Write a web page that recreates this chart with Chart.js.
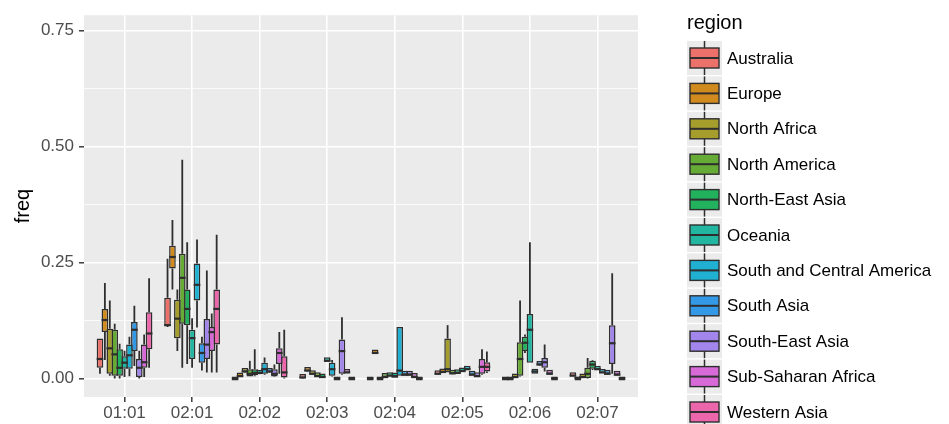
<!DOCTYPE html>
<html>
<head>
<meta charset="utf-8">
<script src="https://cdn.jsdelivr.net/npm/chart.js@4"></script>
<style>
  html, body { margin: 0; padding: 0; background: #fff; }
</style>
</head>
<body>
<canvas id="boxChart" width="949" height="424"></canvas>
<script>
// categories on the x axis
const categories = ['01:01', '02:01', '02:02', '02:03', '02:04', '02:05', '02:06', '02:07'];
const regions = ['Australia', 'Europe', 'North Africa', 'North America', 'North-East Asia', 'Oceania',
  'South and Central America', 'South Asia', 'South-East Asia', 'Sub-Saharan Africa', 'Western Asia'];
const regionColors = ['#EC716A', '#D08A1E', '#A59D2C', '#66AB35', '#22B25E', '#22B5A0',
  '#1FB0D2', '#3399E6', '#A386EC', '#D86AD8', '#EC66AC'];
const yLabelTicks = [0, 0.25, 0.5, 0.75];

// [lower whisker, q1, median, q3, upper whisker] for each category
const australia = [[0.010, 0.023, 0.042, 0.086, 0.086], [0.111, 0.113, 0.115, 0.174, 0.258], [0, 0, 0, 0, 0], [0, 0.001, 0.002, 0.003, 0.003],
  [0, 0, 0, 0, 0], [0.008, 0.009, 0.010, 0.011, 0.012], [0, 0, 0, 0, 0], [0.005, 0.005, 0.006, 0.007, 0.007]];
const europe = [[0.040, 0.100, 0.126, 0.150, 0.206], [0.192, 0.237, 0.262, 0.286, 0.342], [0.003, 0.004, 0.005, 0.006, 0.007], [0.015, 0.016, 0.017, 0.018, 0.018],
  [0.054, 0.054, 0.055, 0.056, 0.056], [0.012, 0.013, 0.014, 0.015, 0.016], [0, 0, 0, 0.001, 0.001], [0, 0, 0.001, 0.001, 0.001]];
const northAfrica = [[0.006, 0.010, 0.065, 0.107, 0.168], [0.059, 0.087, 0.129, 0.170, 0.192], [0.013, 0.014, 0.015, 0.016, 0.017], [0.008, 0.009, 0.010, 0.011, 0.012],
  [0, 0, 0, 0, 0], [0.013, 0.013, 0.020, 0.086, 0.115], [0.002, 0.002, 0.003, 0.003, 0.004], [0.002, 0.002, 0.003, 0.004, 0.004]];
const northAmerica = [[0, 0.006, 0.052, 0.105, 0.118], [0.023, 0.118, 0.217, 0.269, 0.472], [0.004, 0.004, 0.010, 0.020, 0.038], [0.004, 0.005, 0.005, 0.006, 0.006],
  [0.002, 0.003, 0.003, 0.004, 0.004], [0.009, 0.010, 0.011, 0.012, 0.013], [0.004, 0.006, 0.042, 0.078, 0.168], [0, 0.001, 0.010, 0.023, 0.044]];
const northEastAsia = [[0, 0.006, 0.023, 0.063, 0.075], [0.031, 0.115, 0.150, 0.192, 0.294], [0.005, 0.007, 0.012, 0.020, 0.063], [0.002, 0.002, 0.003, 0.003, 0.004],
  [0.005, 0.005, 0.006, 0.006, 0.007], [0.010, 0.011, 0.012, 0.013, 0.014], [0.055, 0.059, 0.077, 0.090, 0.095], [0.018, 0.021, 0.030, 0.038, 0.040]];
const oceania = [[0.003, 0.021, 0.034, 0.048, 0.060], [0.023, 0.042, 0.087, 0.105, 0.130], [0.009, 0.010, 0.012, 0.014, 0.015], [0.037, 0.037, 0.038, 0.039, 0.039],
  [0.003, 0.004, 0.004, 0.005, 0.005], [0.014, 0.015, 0.016, 0.017, 0.018], [0.034, 0.034, 0.105, 0.139, 0.294], [0.018, 0.019, 0.020, 0.021, 0.022]];
const southCentralAmerica = [[0.005, 0.021, 0.050, 0.073, 0.090], [0.110, 0.168, 0.202, 0.248, 0.300], [0.008, 0.010, 0.020, 0.034, 0.045], [0.004, 0.006, 0.020, 0.034, 0.040],
  [0.006, 0.006, 0.017, 0.111, 0.111], [0.018, 0.019, 0.020, 0.021, 0.022], [0.010, 0.010, 0.015, 0.021, 0.021], [0.012, 0.012, 0.013, 0.014, 0.014]];
const southAsia = [[0.027, 0.059, 0.105, 0.122, 0.157], [0.017, 0.034, 0.055, 0.076, 0.090], [0.013, 0.014, 0.015, 0.016, 0.017], [0, 0, 0, 0, 0],
  [0.007, 0.008, 0.008, 0.009, 0.009], [0.007, 0.008, 0.008, 0.009, 0.009], [0.028, 0.029, 0.030, 0.031, 0.032], [0.009, 0.010, 0.010, 0.011, 0.011]];
const southEastAsia = [[0, 0.003, 0.023, 0.042, 0.060], [0.013, 0.042, 0.073, 0.128, 0.233], [0.003, 0.004, 0.010, 0.020, 0.030], [0.008, 0.010, 0.059, 0.084, 0.132],
  [0.007, 0.008, 0.008, 0.009, 0.009], [0.004, 0.005, 0.005, 0.006, 0.006], [0.015, 0.023, 0.035, 0.044, 0.073], [0.010, 0.031, 0.076, 0.115, 0.227]];
const subSaharanAfrica = [[0.003, 0.023, 0.035, 0.073, 0.095], [0.013, 0.059, 0.100, 0.111, 0.140], [0.010, 0.031, 0.055, 0.065, 0.100], [0.012, 0.012, 0.013, 0.014, 0.014],
  [0.002, 0.003, 0.003, 0.004, 0.004], [0.008, 0.010, 0.025, 0.042, 0.063], [0.009, 0.010, 0.010, 0.011, 0.011], [0.007, 0.008, 0.008, 0.009, 0.009]];
const westernAsia = [[0.023, 0.063, 0.097, 0.143, 0.216], [0.013, 0.073, 0.150, 0.192, 0.310], [0, 0.002, 0.013, 0.048, 0.105], [0, 0, 0, 0, 0],
  [0, 0, 0, 0, 0], [0.012, 0.015, 0.025, 0.035, 0.058], [0, 0, 0, 0, 0], [0, 0, 0, 0, 0]];

const regionStats = [australia, europe, northAfrica, northAmerica, northEastAsia, oceania,
  southCentralAmerica, southAsia, southEastAsia, subSaharanAfrica, westernAsia];

const FONT = '"Liberation Sans", Arial, Helvetica, sans-serif';
const DARK = '#2E2E2E';

// boxes are floating bars from q1 to q3
const datasets = regions.map((name, r) => ({
  label: name,
  data: regionStats[r].map((s, i) => ({ x: i + 1, y: [s[1], s[3]] })),
  backgroundColor: regionColors[r],
  borderColor: DARK,
  borderWidth: 1.5,
  borderSkipped: false,
  minBarLength: 4,
  categoryPercentage: 0.8,
  barPercentage: 1.35
}));

// grey panel behind the grid
const panelPlugin = {
  id: 'panel',
  beforeDraw(chart) {
    const a = chart.chartArea;
    chart.ctx.save();
    chart.ctx.fillStyle = '#EBEBEB';
    chart.ctx.fillRect(a.left, a.top, a.right - a.left, a.bottom - a.top);
    chart.ctx.restore();
  }
};

// whiskers behind the boxes, medians on top
const boxPlugin = {
  id: 'boxParts',
  beforeDatasetsDraw(chart) {
    const ctx = chart.ctx;
    const y = chart.scales.y;
    ctx.save();
    ctx.strokeStyle = DARK;
    ctx.lineWidth = 1.8;
    regionStats.forEach((stats, r) => {
      const meta = chart.getDatasetMeta(r);
      stats.forEach((s, i) => {
        const el = meta.data[i];
        ctx.beginPath();
        ctx.moveTo(el.x, y.getPixelForValue(s[4]));
        ctx.lineTo(el.x, y.getPixelForValue(s[3]));
        ctx.moveTo(el.x, y.getPixelForValue(s[1]));
        ctx.lineTo(el.x, y.getPixelForValue(s[0]));
        ctx.stroke();
      });
    });
    ctx.restore();
  },
  afterDatasetsDraw(chart) {
    const ctx = chart.ctx;
    const y = chart.scales.y;
    ctx.save();
    ctx.strokeStyle = DARK;
    ctx.lineWidth = 2.2;
    regionStats.forEach((stats, r) => {
      const meta = chart.getDatasetMeta(r);
      stats.forEach((s, i) => {
        const el = meta.data[i];
        const py = y.getPixelForValue(s[2]);
        ctx.beginPath();
        ctx.moveTo(el.x - el.width / 2, py);
        ctx.lineTo(el.x + el.width / 2, py);
        ctx.stroke();
      });
    });
    ctx.restore();
  }
};

// ggplot-style legend with boxplot keys
const legendPlugin = {
  id: 'regionLegend',
  afterDraw(chart) {
    const ctx = chart.ctx;
    ctx.save();
    ctx.fillStyle = '#000';
    ctx.font = '20px ' + FONT;
    ctx.textBaseline = 'alphabetic';
    ctx.fillText('region', 687, 29);
    regions.forEach((name, k) => {
      const cy = 58 + k * 35.4;
      ctx.fillStyle = '#EBEBEB';
      ctx.fillRect(687, cy - 17, 35, 34);
      ctx.strokeStyle = DARK;
      ctx.lineWidth = 1.5;
      ctx.beginPath();
      ctx.moveTo(704.5, cy - 17);
      ctx.lineTo(704.5, cy + 17);
      ctx.stroke();
      ctx.fillStyle = regionColors[k];
      ctx.fillRect(690, cy - 10, 29, 20);
      ctx.lineWidth = 1.4;
      ctx.strokeRect(690, cy - 10, 29, 20);
      ctx.lineWidth = 2;
      ctx.beginPath();
      ctx.moveTo(690, cy);
      ctx.lineTo(719, cy);
      ctx.stroke();
      ctx.fillStyle = '#000';
      ctx.font = '17px ' + FONT;
      ctx.textBaseline = 'middle';
      ctx.fillText(name, 727, cy + 1);
    });
    ctx.restore();
  }
};

const isMajor = v => yLabelTicks.some(t => Math.abs(t - v) < 1e-6);

new Chart(document.getElementById('boxChart').getContext('2d'), {
  type: 'bar',
  data: { datasets: datasets },
  options: {
    responsive: false,
    animation: false,
    devicePixelRatio: 1,
    layout: { padding: { left: 0, right: 311, top: 5, bottom: 0 } },
    plugins: { legend: { display: false }, tooltip: { enabled: false } },
    scales: {
      x: {
        type: 'linear',
        min: 0.4,
        max: 8.6,
        offset: false,
        afterFit(scale) { scale.height = 27; },
        grid: { offset: false, color: '#FFFFFF', lineWidth: 1.6, tickColor: DARK, tickLength: 5, tickWidth: 1.4 },
        border: { display: false },
        ticks: {
          stepSize: 1,
          autoSkip: false,
          includeBounds: false,
          maxRotation: 0,
          padding: 1,
          color: '#4D4D4D',
          font: { family: FONT, size: 17 },
          callback: v => categories[v - 1] || ''
        }
      },
      y: {
        min: -0.04,
        max: 0.7836,
        afterFit(scale) { scale.width = 84; },
        grid: {
          color: '#FFFFFF',
          lineWidth: c => isMajor(c.tick.value) ? 1.6 : 0.8,
          tickColor: c => isMajor(c.tick.value) ? DARK : 'rgba(0,0,0,0)',
          tickLength: 5,
          tickWidth: 1.4
        },
        border: { display: false },
        title: { display: true, text: 'freq', color: '#000', font: { family: FONT, size: 20 }, padding: { top: 11, bottom: 0 } },
        ticks: {
          stepSize: 0.125,
          includeBounds: false,
          autoSkip: false,
          padding: 5,
          color: '#4D4D4D',
          font: { family: FONT, size: 17 },
          callback: v => isMajor(v) ? v.toFixed(2) : ''
        }
      }
    }
  },
  plugins: [panelPlugin, boxPlugin, legendPlugin]
});
</script>
</body>
</html>
